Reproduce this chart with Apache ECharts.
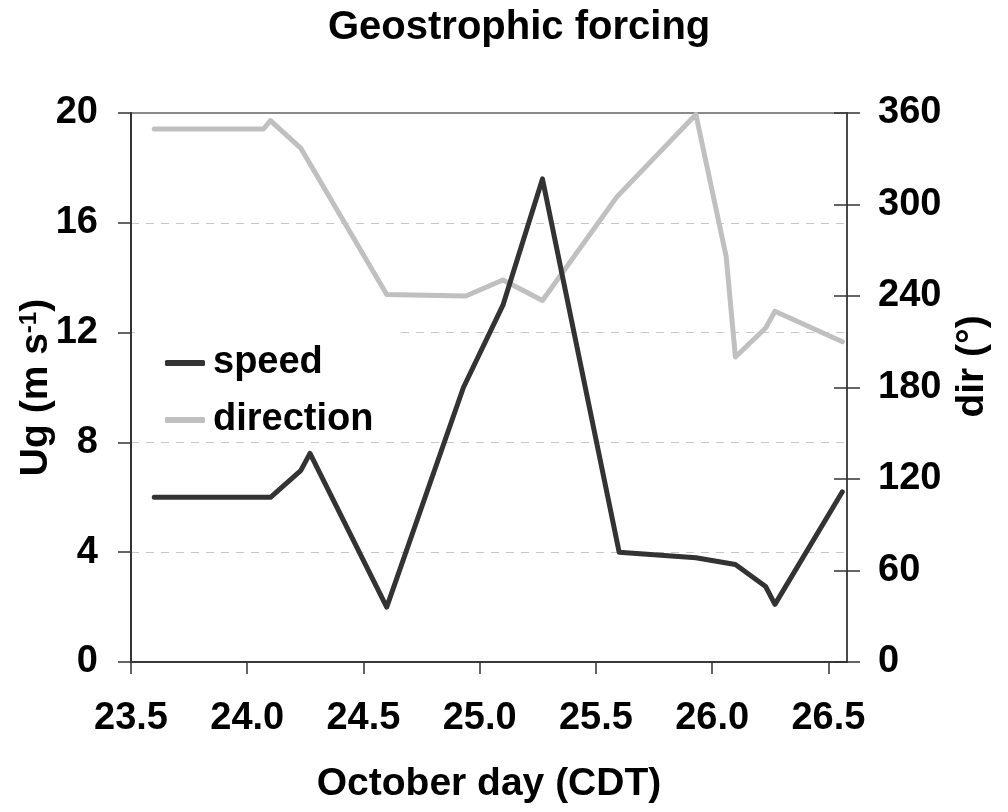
<!DOCTYPE html>
<html>
<head>
<meta charset="utf-8">
<script src="https://cdn.jsdelivr.net/npm/echarts@6/dist/echarts.min.js"></script>
<style>
  html, body { margin: 0; padding: 0; background: #fff; }
  #chart { width: 1008px; height: 812px; }
</style>
</head>
<body>
<div id="chart"></div>
<script>
// October day (CDT) for each series
const speedDays = [23.60, 24.10, 24.23, 24.27, 24.60, 24.93, 25.10, 25.27, 25.60, 25.93, 26.10, 26.23, 26.27, 26.56];
const speedValues = [6.0, 6.0, 6.97, 7.6, 2.0, 10.0, 13.0, 17.6, 4.0, 3.8, 3.55, 2.75, 2.1, 6.2];

const dirDays = [23.60, 24.07, 24.10, 24.23, 24.60, 24.94, 25.10, 25.27, 25.59, 25.93, 26.06, 26.10, 26.23, 26.27, 26.56];
const dirValues = [349.5, 349.5, 355, 337, 241, 240, 250.5, 237, 305, 359, 266, 200, 219, 230, 210];

const xTicks = [23.5, 24.0, 24.5, 25.0, 25.5, 26.0, 26.5];

const font = 'Liberation Sans, Arial, sans-serif';
const big = { fontFamily: font, fontWeight: 'bold', fontSize: 38, color: '#000', lineHeight: 38 };

const chart = echarts.init(document.getElementById('chart'));

chart.setOption({
  animation: false,
  backgroundColor: '#fff',
  title: {
    text: 'Geostrophic forcing',
    left: 323,
    top: 3,
    padding: 5,
    textStyle: { fontFamily: font, fontWeight: 'bold', fontSize: 40, lineHeight: 40, color: '#000' }
  },
  legend: {
    orient: 'vertical',
    left: 135,
    top: 326,
    padding: [18, 27, 2, 30],
    backgroundColor: '#fff',
    itemWidth: 40,
    itemHeight: 6,
    itemGap: 19,
    icon: 'roundRect',
    textStyle: Object.assign({}, big, { padding: [0, 0, 0, 3] }),
    data: ['speed', 'direction']
  },
  grid: {
    left: 131,
    right: 161,
    top: 113,
    bottom: 150,
    show: true,
    borderColor: '#8a8a8a',
    borderWidth: 2,
    backgroundColor: 'transparent'
  },
  xAxis: {
    type: 'value',
    min: 23.5,
    max: 26.58,
    interval: 0.5,
    name: 'October day (CDT)',
    nameLocation: 'middle',
    nameGap: 103,
    nameMoveOverlap: false,
    nameTextStyle: { fontFamily: font, fontWeight: 'bold', fontSize: 39, lineHeight: 39, color: '#000' },
    axisLine: { lineStyle: { color: '#3a3a3a', width: 2 } },
    axisTick: { length: 12, customValues: xTicks, lineStyle: { color: '#333', width: 1.5 } },
    axisLabel: Object.assign({}, big, {
      margin: 38,
      customValues: xTicks,
      formatter: v => v.toFixed(1)
    }),
    splitLine: { show: false }
  },
  yAxis: [
    {
      type: 'value',
      min: 0,
      max: 20,
      interval: 4,
      position: 'left',
      name: '{a|Ug (m s}{b|-1}{a|)}',
      nameLocation: 'middle',
      nameGap: 75,
      nameMoveOverlap: false,
      nameTextStyle: {
        rich: {
          a: { fontFamily: font, fontWeight: 'bold', fontSize: 39, lineHeight: 39, color: '#000' },
          b: { fontFamily: font, fontWeight: 'bold', fontSize: 24, lineHeight: 24, color: '#000', verticalAlign: 'top' }
        }
      },
      axisLine: { show: true, lineStyle: { color: '#333', width: 2 } },
      axisTick: { show: true, length: 13, lineStyle: { color: '#333', width: 1.5 } },
      axisLabel: Object.assign({}, big, { margin: 33 }),
      splitLine: {
        show: true,
        showMinLine: false,
        showMaxLine: false,
        lineStyle: { color: '#c8c8c8', width: 1, type: [8, 7] }
      }
    },
    {
      type: 'value',
      min: 0,
      max: 360,
      interval: 60,
      position: 'right',
      name: 'dir (°)',
      nameLocation: 'middle',
      nameGap: 106,
      nameRotate: 90,
      nameTextStyle: { fontFamily: font, fontWeight: 'bold', fontSize: 39, lineHeight: 39, color: '#000', padding: [0, 0, 0, 42] },
      axisLine: { show: true, lineStyle: { color: '#333', width: 1.5 } },
      axisTick: { show: true, length: 13, lineStyle: { color: '#333', width: 1.5 } },
      axisLabel: Object.assign({}, big, { margin: 31 }),
      splitLine: { show: false }
    },
    {
      // inner half of the right-hand crossing ticks
      type: 'value',
      min: 0,
      max: 360,
      interval: 60,
      position: 'right',
      axisLine: { show: false },
      axisTick: { show: true, inside: true, length: 13, lineStyle: { color: '#333', width: 1.5 } },
      axisLabel: { show: false },
      splitLine: { show: false }
    }
  ],
  series: [
    {
      name: 'direction',
      type: 'line',
      yAxisIndex: 1,
      data: dirDays.map((d, i) => [d, dirValues[i]]),
      showSymbol: false,
      symbol: 'none',
      color: '#c0c0c0',
      lineStyle: { color: '#c0c0c0', width: 5, cap: 'round', join: 'round' },
      z: 2
    },
    {
      name: 'speed',
      type: 'line',
      yAxisIndex: 0,
      data: speedDays.map((d, i) => [d, speedValues[i]]),
      showSymbol: false,
      symbol: 'none',
      color: '#333333',
      lineStyle: { color: '#333333', width: 5, cap: 'round', join: 'round' },
      z: 3
    }
  ]
});

window.addEventListener('resize', () => chart.resize());
</script>
</body>
</html>
